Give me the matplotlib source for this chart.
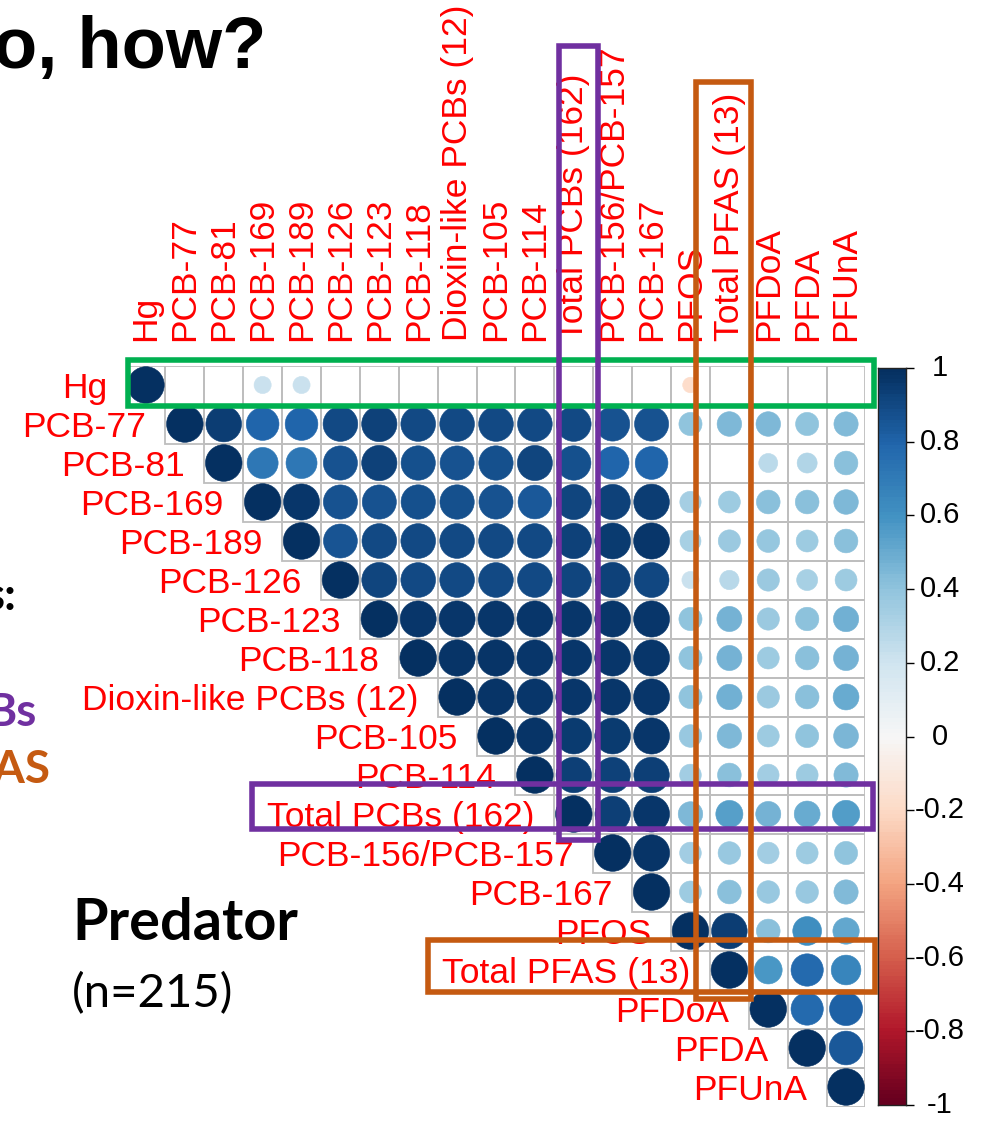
#!/usr/bin/env python3
# corrplot-style upper triangle (circles), predator contaminants

import numpy as np
import matplotlib
matplotlib.use("Agg")
import matplotlib.pyplot as plt
from matplotlib.patches import Circle, Rectangle
from matplotlib.colors import Normalize

W, H = 987, 1123  # pixels

labels = ["Hg", "PCB-77", "PCB-81", "PCB-169", "PCB-189", "PCB-126", "PCB-123",
          "PCB-118", "Dioxin-like PCBs (12)", "PCB-105", "PCB-114",
          "Total PCBs (162)", "PCB-156/PCB-157", "PCB-167", "PFOS",
          "Total PFAS (13)", "PFDoA", "PFDA", "PFUnA"]

# each row starts at the diagonal; None = not significant (blank cell)
hg_row = [1.0, None, None, 0.22, 0.22, None, None, None, None, None, None,
          None, None, None, -0.18, None, None, None, None]
pcb77_row = [1.0, 0.95, 0.80, 0.80, 0.90, 0.93, 0.90, 0.90, 0.90, 0.90, 0.90,
             0.87, 0.87, 0.40, 0.45, 0.45, 0.40, 0.44]
pcb81_row = [1.0, 0.72, 0.72, 0.87, 0.93, 0.88, 0.87, 0.88, 0.92, 0.88, 0.80,
             0.80, None, None, 0.27, 0.30, 0.42]
pcb169_row = [1.0, 0.97, 0.87, 0.87, 0.88, 0.88, 0.87, 0.85, 0.92, 0.93, 0.95,
              0.34, 0.36, 0.42, 0.42, 0.45]
pcb189_row = [1.0, 0.86, 0.90, 0.90, 0.90, 0.90, 0.90, 0.93, 0.96, 0.97,
              0.33, 0.37, 0.39, 0.36, 0.42]
pcb126_row = [1.0, 0.92, 0.90, 0.90, 0.90, 0.90, 0.92, 0.93, 0.91,
              0.22, 0.28, 0.37, 0.33, 0.36]
pcb123_row = [1.0, 0.97, 0.97, 0.97, 0.97, 0.97, 0.97, 0.97,
              0.40, 0.47, 0.37, 0.41, 0.48]
pcb118_row = [1.0, 0.98, 0.98, 0.97, 0.97, 0.97, 0.97,
              0.40, 0.47, 0.36, 0.42, 0.47]
dioxin_row = [1.0, 0.98, 0.97, 0.97, 0.97, 0.97,
              0.40, 0.48, 0.37, 0.42, 0.50]
pcb105_row = [1.0, 0.98, 0.96, 0.96, 0.97,
              0.38, 0.45, 0.36, 0.40, 0.46]
pcb114_row = [1.0, 0.94, 0.93, 0.94,
              0.35, 0.42, 0.35, 0.36, 0.44]
totpcb_row = [1.0, 0.94, 0.97,
              0.45, 0.55, 0.47, 0.50, 0.56]
pcb156_row = [1.0, 0.98,
              0.35, 0.38, 0.35, 0.36, 0.40]
pcb167_row = [1.0, 0.36, 0.42, 0.38, 0.38, 0.44]
pfos_row = [1.0, 0.95, 0.42, 0.62, 0.52]
totpfas_row = [1.0, 0.58, 0.78, 0.66]
pfdoa_row = [1.0, 0.78, 0.82]
pfda_row = [1.0, 0.85]
pfuna_row = [1.0]

upper = [hg_row, pcb77_row, pcb81_row, pcb169_row, pcb189_row, pcb126_row,
         pcb123_row, pcb118_row, dioxin_row, pcb105_row, pcb114_row,
         totpcb_row, pcb156_row, pcb167_row, pfos_row, totpfas_row,
         pfdoa_row, pfda_row, pfuna_row]

cbar_ticks = [1, 0.8, 0.6, 0.4, 0.2, 0, -0.2, -0.4, -0.6, -0.8, -1]
cbar_labels = ["1", "0.8", "0.6", "0.4", "0.2", "0", "-0.2", "-0.4", "-0.6", "-0.8", "-1"]

n = len(labels)
corr = np.full((n, n), np.nan)
for i, row in enumerate(upper):
    for k, v in enumerate(row):
        if v is not None:
            corr[i, i + k] = v

LABEL_FONT = "Liberation Sans"
RED = "#FF0000"
GREEN = "#00B050"
PURPLE = "#7030A0"
ORANGE = "#C55A11"

fig = plt.figure(figsize=(W / 100.0, H / 100.0), dpi=100)
ax = fig.add_axes([126.5 / W, 1 - 1106.5 / H, 739 / W, 741 / H])
ax.set_xlim(-0.5, n - 0.5)
ax.set_ylim(n - 0.5, -0.5)
ax.axis("off")

cmap = plt.get_cmap("RdBu")
norm = Normalize(-1, 1)

for i in range(n):
    for j in range(i, n):
        ax.add_patch(Rectangle((j - 0.5, i - 0.5), 1, 1, fill=False,
                               ec="#BEBEBE", lw=1.3, zorder=1))
        v = corr[i, j]
        if not np.isnan(v):
            c = cmap(norm(v))
            ax.add_patch(Circle((j, i), 0.47 * np.sqrt(abs(v)), fc=c, ec=c,
                                lw=0.4, zorder=2))
    # row label left of the diagonal, column label on top
    ax.text(i - 1.0, i, labels[i], ha="right", va="center_baseline", color=RED,
            fontsize=25.5, family=LABEL_FONT, clip_on=False)
    ax.text(i, -1.12, labels[i], ha="center", va="bottom", rotation=90,
            color=RED, fontsize=25.5, family=LABEL_FONT, clip_on=False)

# highlight boxes (data coords of the cell grid)
boxes = [(-0.45, -0.63, 18.71, 0.53, GREEN),
         (10.62, -8.69, 11.62, 11.67, PURPLE),
         (2.72, 10.24, 18.69, 11.38, PURPLE),
         (14.14, -7.77, 15.55, 15.74, ORANGE),
         (7.25, 14.23, 18.75, 15.56, ORANGE)]
for x0, y0, x1, y1, col in boxes:
    ax.add_patch(Rectangle((x0, y0), x1 - x0, y1 - y0, fill=False, ec=col,
                           lw=4, zorder=5, clip_on=False))

# colour legend
cax = fig.add_axes([878 / W, 1 - 1105 / H, 28 / W, 737 / H])
grad = np.linspace(-1, 1, 200).reshape(-1, 1)
cax.imshow(grad, cmap=cmap, norm=norm, aspect="auto", origin="lower",
           extent=[0, 1, -1, 1])
cax.set_xticks([])
cax.yaxis.tick_right()
cax.set_yticks(cbar_ticks)
cax.set_yticklabels([])
cax.tick_params(axis="y", length=6, width=1, direction="out")
for s in cax.spines.values():
    s.set_color("#222222")
    s.set_linewidth(1)
for t, lab in zip(cbar_ticks, cbar_labels):
    cax.text(2.2, t, lab, transform=cax.get_yaxis_transform(), ha="center",
             va="center", fontsize=21, family=LABEL_FONT)

# slide text around the chart
fig.text(266 / W, 1 - 68 / H, "o, how?", ha="right", va="baseline",
         fontsize=52, weight="bold", family=LABEL_FONT)
fig.text(17 / W, 1 - 610 / H, "s:", ha="right", va="baseline",
         fontsize=33, weight="bold", family="Lato")
fig.text(37 / W, 1 - 726 / H, "Bs", ha="right", va="baseline", color=PURPLE,
         fontsize=33, weight="bold", family="Lato")
fig.text(50 / W, 1 - 783 / H, "FAS", ha="right", va="baseline", color=ORANGE,
         fontsize=33, weight="bold", family="Lato")
fig.text(72 / W, 1 - 940 / H, "Predator", ha="left", va="baseline",
         fontsize=41.5, weight="bold", family="Lato")
fig.text(72 / W, 1 - 1007 / H, "(n=215)", ha="left", va="baseline",
         fontsize=34, family="Lato")

fig.savefig("out.png", dpi=100)
plt.close("all")
